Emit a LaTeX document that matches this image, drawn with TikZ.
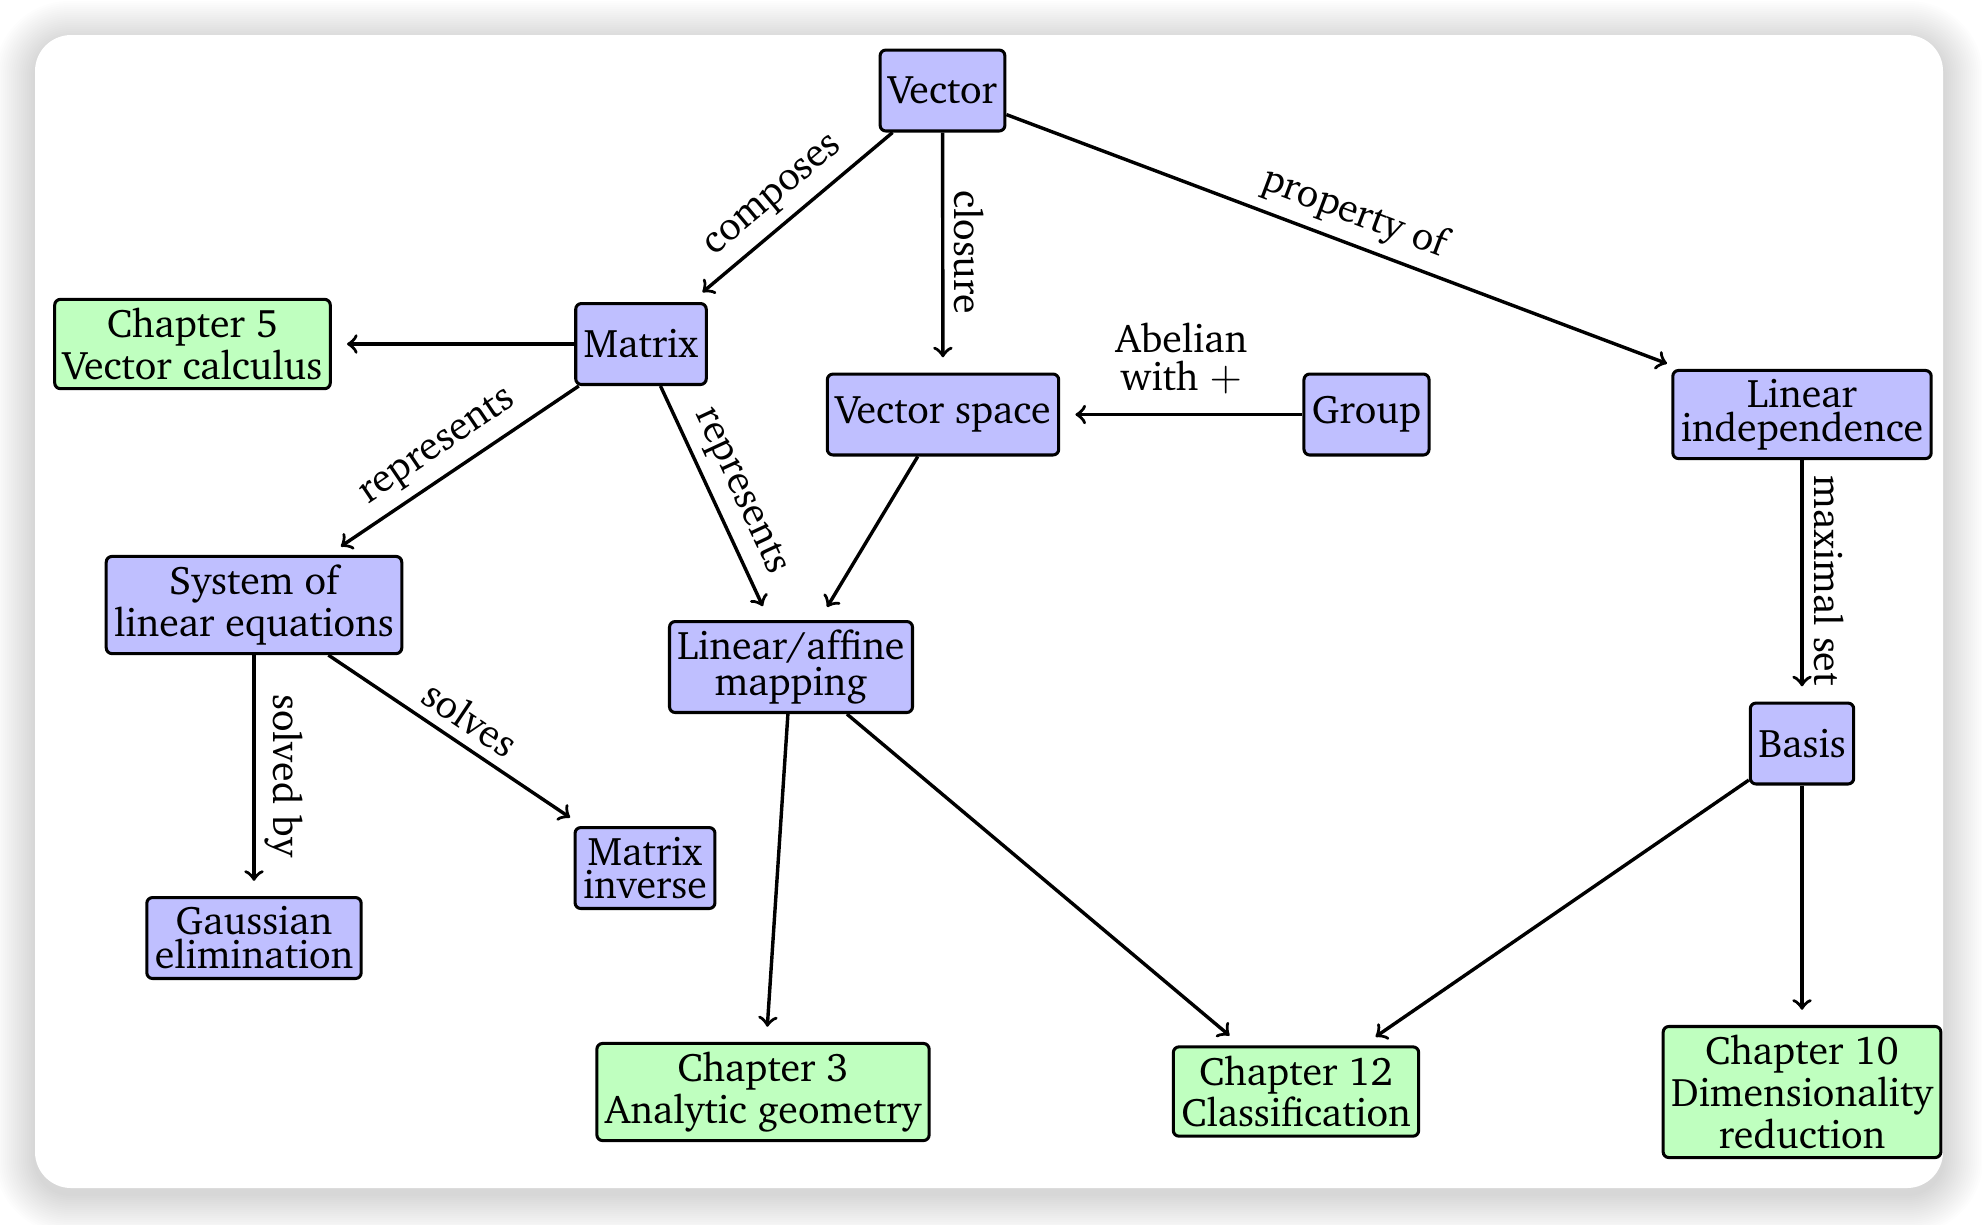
\documentclass[tikz,border=0pt]{standalone}
\usepackage[T1]{fontenc}
\usepackage{charter}
\newcommand{\nfont}{\fontsize{10.5}{0}\selectfont}
\newcommand{\lfont}{\fontsize{10.5}{10}\selectfont}
\begin{document}
\begin{tikzpicture}[x=0.26316pt,y=-0.26316pt,
  concept/.style={draw, line width=0.8pt, rounded corners=1.5pt, fill=blue!25,
    inner xsep=2.1pt, inner ysep=2.3pt, minimum height=21.3pt, align=center, font=\nfont},
  chapter/.style={concept, fill=green!25},
  arr/.style={->, line width=0.9pt, shorten >=4pt},
  lbl/.style={sloped, above, inner sep=2.6pt, font=\nfont},
  plainlbl/.style={above, inner sep=2.6pt, yshift=2.4pt, align=center, font=\lfont}]
\useasboundingbox (0,0) rectangle (1982,1224);
\fill[white] (0,0) rectangle (1982,1224);
% shadow
\foreach \i in {1,...,20}{
  \fill[black, opacity=0.007, rounded corners={(9.5+0.5*\i)*1pt}]
    ({35-2*\i},{41-2*\i}) rectangle ({1943+2*\i},{1194+2*\i});
}
\fill[white, rounded corners=9.5pt] (35,35) rectangle (1943,1188);

% nodes
\node[concept] (vec) at (942.5,90.5) {Vector};
\node[concept] (mat) at (641,344) {Matrix};
\node[chapter] (ch5) at (192.5,344) {Chapter 5\\Vector calculus};
\node[concept] (vs) at (943,414.5) {Vector space};
\node[concept] (grp) at (1366.5,414.5) {Group};
\node[concept] (li) at (1802,414.5) {Linear\\independence};
\node[concept] (sys) at (254,605) {System of\\linear equations};
\node[concept] (lam) at (791,667) {Linear/affine\\mapping};
\node[concept] (bas) at (1802,743.5) {Basis};
\node[concept] (minv) at (645,868) {Matrix\\inverse};
\node[concept] (gau) at (254,938) {Gaussian\\elimination};
\node[chapter] (ch3) at (763,1092) {Chapter 3\\Analytic geometry};
\node[chapter] (ch12) at (1296,1091.5) {Chapter 12\\Classification};
\node[chapter] (ch10) at (1802,1092) {Chapter 10\\Dimensionality\\reduction};

% edges
\draw[arr] (vec) -- node[lbl] {composes} (mat);
\draw[arr] (vec) -- node[lbl] {closure} (vs);
\draw[arr] (vec) -- node[lbl] {property of} (li);
\draw[arr] (mat) -- (ch5);
\draw[arr] (mat) -- node[lbl] {represents} (sys);
\draw[arr] (mat) -- node[lbl] {represents} (lam);
\draw[arr] (vs) -- (lam);
\draw[arr] (grp) -- node[plainlbl] {Abelian\\with $+$} (vs);
\draw[arr] (li) -- node[lbl] {maximal set} (bas);
\draw[arr] (sys) -- node[lbl] {solved by} (gau);
\draw[arr] (sys) -- node[lbl] {solves} (minv);
\draw[arr] (lam) -- (ch3);
\draw[arr] (lam) -- (ch12);
\draw[arr] (bas) -- (ch12);
\draw[arr] (bas) -- (ch10);
\end{tikzpicture}
\end{document}
